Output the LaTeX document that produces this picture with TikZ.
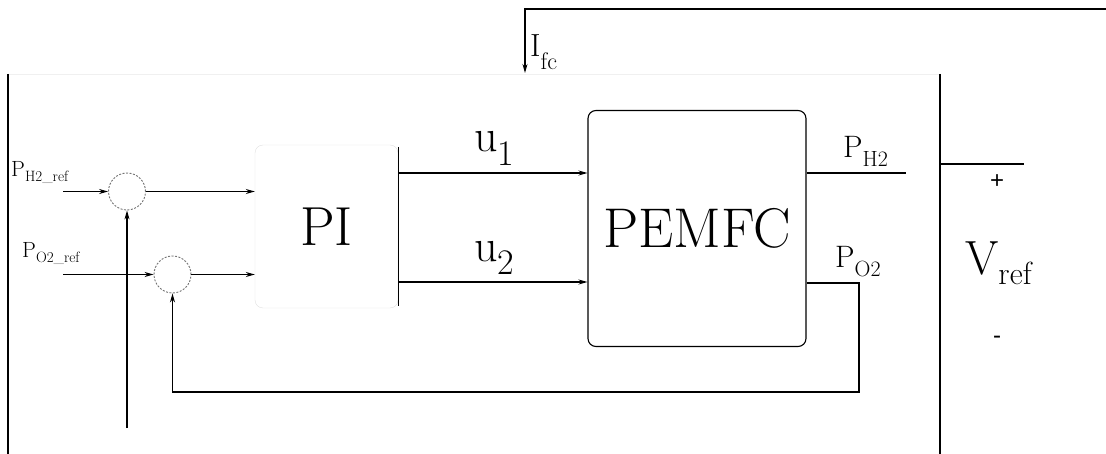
\documentclass[tikz,border=0pt]{standalone}
\usepackage{fontspec}
\newfontfamily\arialf{Liberation Sans}
\usetikzlibrary{arrows.meta}
\newcommand{\fs}[1]{\fontsize{#1}{#1}\selectfont}
\begin{document}
\begin{tikzpicture}[x=1pt,y=-1pt,
  ln/.style={line width=1.1pt},
  arr/.style={line width=1.1pt,-{Stealth[length=9pt,width=5pt]}},
  sumc/.style={circle,draw=black!55,dashed,dash pattern=on 2pt off 1.5pt,line width=0.9pt,minimum size=37pt,inner sep=0pt},
  lbl/.style={inner sep=0pt,anchor=base west}]
\useasboundingbox (0,0) rectangle (1106,454);
% outer frame
\draw[black!6,line width=0.8pt] (8,74) -- (940,74);
\draw[ln] (8,74) -- (8,454);
\draw[ln] (940,74) -- (940,454);
% blocks
\node[draw=black!12,rounded corners=8pt,minimum width=143pt,minimum height=163pt,inner sep=0pt] (pi) at (326.5,226.5) {\fs{55}PI};
\draw[ln] ([yshift=-2pt]pi.north east) -- ([yshift=2pt]pi.south east);
\node[draw,line width=1.1pt,rounded corners=8pt,minimum width=218pt,minimum height=236pt,inner sep=0pt] (fc) at (697,228.5) {\fs{56}PEMFC};
% summing junctions
\node[sumc] (s1) at (127,191.5) {};
\node[sumc] (s2) at (172.5,274.5) {};
% free ends
\coordinate (in1) at (63,191.5);
\coordinate (in2) at (63,274.5);
\coordinate (v1) at (127,428);
\coordinate (fbtop) at (1106,9);
\coordinate (fbcorner) at (525,9);
\coordinate (fbend) at (525,73);
\coordinate (ph2end) at (906,173);
\coordinate (po2c) at (859,283);
\coordinate (fbb) at (859,392);
\coordinate (vr1) at (940,164);
\coordinate (vr2) at (1024,164);
% connectors
\draw[arr] (in1) -- (s1.west);
\draw[arr] (in2) -- (s2.west);
\draw[arr] (s1.east) -- (pi.west |- s1.east);
\draw[arr] (s2.east) -- (pi.west |- s2.east);
\draw[arr] (v1) -- (s1.south);
\draw[arr] (pi.east |- 0,173) -- (fc.west |- 0,173);
\draw[arr] (pi.east |- 0,282) -- (fc.west |- 0,282);
\draw[ln] (fc.east |- ph2end) -- (ph2end);
\draw[arr] (fc.east |- po2c) -- (po2c) -- (fbb) -- (s2.south |- fbb) -- (s2.south);
\draw[arr] (fbtop) -- (fbcorner) -- (fbend);
\draw[ln] (vr1) -- (vr2);
% labels
\node[lbl] (lph2ref) at (11,177) {\fs{22}P\raisebox{-5pt}{\fs{15}H2\_ref}};
\node[lbl] (lpo2ref) at (22,258) {\fs{22}P\raisebox{-5pt}{\fs{15}O2\_ref}};
\node[lbl] (lifc) at (530,57) {\fs{32}I\raisebox{-13pt}{\fs{24}fc}};
\node[lbl] (lu1) at (474,152) {\fs{46}u\raisebox{-14pt}{\fs{36}1}};
\node[lbl] (lu2) at (474,262) {\fs{46}u\raisebox{-13pt}{\fs{36}2}};
\node[lbl] (lph2) at (843,158) {\fs{31}P\raisebox{-9pt}{\fs{22}H2}};
\node[lbl] (lpo2) at (835,268) {\fs{31}P\raisebox{-9pt}{\fs{22}O2}};
\node[lbl] (lvref) at (965,275) {\fs{48}V\raisebox{-10pt}{\fs{32}ref}};
\node (lplus) at (997,182) {\arialf\fs{24}+};
\node (lminus) at (997,340) {\arialf\fs{24}-};
\end{tikzpicture}
\end{document}
